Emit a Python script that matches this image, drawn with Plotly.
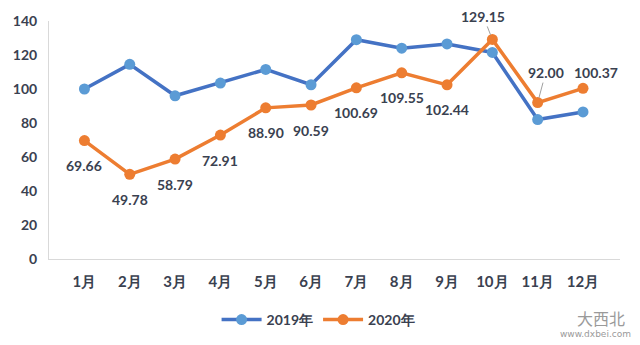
import plotly.graph_objects as go

months = ["1月", "2月", "3月", "4月", "5月", "6月", "7月", "8月", "9月", "10月", "11月", "12月"]
values_2019 = [100, 114.5, 96, 103.5, 111.5, 102.5, 129, 124, 126.5, 121.5, 82, 86.5]
values_2020 = [69.66, 49.78, 58.79, 72.91, 88.90, 90.59, 100.69, 109.55, 102.44, 129.15, 92.00, 100.37]
y_ticks = [0, 20, 40, 60, 80, 100, 120, 140]

TXT = "#3a4150"
FONT = "Lato"

fig = go.Figure()
fig.add_trace(go.Scatter(
    x=months, y=values_2019, name="2019年", mode="lines+markers",
    line=dict(color="#4472C4", width=3.5),
    marker=dict(color="#5B9BD5", size=11),
))
fig.add_trace(go.Scatter(
    x=months, y=values_2020, name="2020年", mode="lines+markers",
    line=dict(color="#ED7D31", width=3.5),
    marker=dict(color="#ED7D31", size=11),
))

# label placement: (ax, ay, arrow) offsets in pixels from the point
label_style = {9: (-9, -23, True), 10: (8, -30, True), 11: (13, -16, False)}
for i, (m, v) in enumerate(zip(months, values_2020)):
    txt = f"{v:.2f}"
    font = dict(family=FONT, size=14, color=TXT, weight="bold")
    if i in label_style:
        ax, ay, arrow = label_style[i]
        if arrow:
            fig.add_annotation(x=m, y=v, text=txt, showarrow=True, ax=ax, ay=ay,
                               arrowhead=0, arrowwidth=1, arrowcolor="#a0a0a0",
                               standoff=5, font=font)
        else:
            fig.add_annotation(x=m, y=v, text=txt, showarrow=False,
                               xshift=ax, yshift=-ay, font=font)
    else:
        fig.add_annotation(x=m, y=v, text=txt, showarrow=False, yshift=-25, font=font)

# watermark
fig.add_annotation(xref="paper", yref="paper", x=1.012, y=-0.248, text="大西北",
                   showarrow=False, font=dict(family="Noto Sans CJK SC", size=16, color="#9a9a9a"),
                   xanchor="right", yanchor="middle")
fig.add_annotation(xref="paper", yref="paper", x=1.023, y=-0.315, text="www.dxbei.com",
                   showarrow=False, font=dict(family="DejaVu Sans", size=9, color="#9a9a9a"),
                   xanchor="right", yanchor="middle")

fig.update_layout(
    width=640, height=345,
    margin=dict(l=49, r=20, t=21, b=86, autoexpand=False),
    paper_bgcolor="white", plot_bgcolor="white",
    showlegend=True,
    legend=dict(orientation="h", x=0.497, xref="container", y=1 - 320 / 345, yref="container",
                xanchor="center", yanchor="middle",
                font=dict(family=FONT, size=14, color=TXT, weight="bold"),
                itemwidth=40, tracegroupgap=0),
    font=dict(family=FONT, color=TXT),
)
fig.update_xaxes(
    showgrid=False, showline=True, linecolor="#d9d9d9", linewidth=1, automargin=False,
    ticks="outside", ticklen=9, tickcolor="rgba(0,0,0,0)",
    tickfont=dict(family=FONT, size=15, color=TXT, weight="bold"),
    categoryorder="array", categoryarray=months,
)
fig.update_yaxes(
    range=[0, 140], tickvals=y_ticks, showgrid=False, zeroline=False, automargin=False,
    showline=True, linecolor="#d9d9d9", linewidth=1,
    ticks="outside", ticklen=8, tickcolor="rgba(0,0,0,0)",
    tickfont=dict(family=FONT, size=14, color=TXT, weight="bold"),
)

fig.write_html("out.html")
